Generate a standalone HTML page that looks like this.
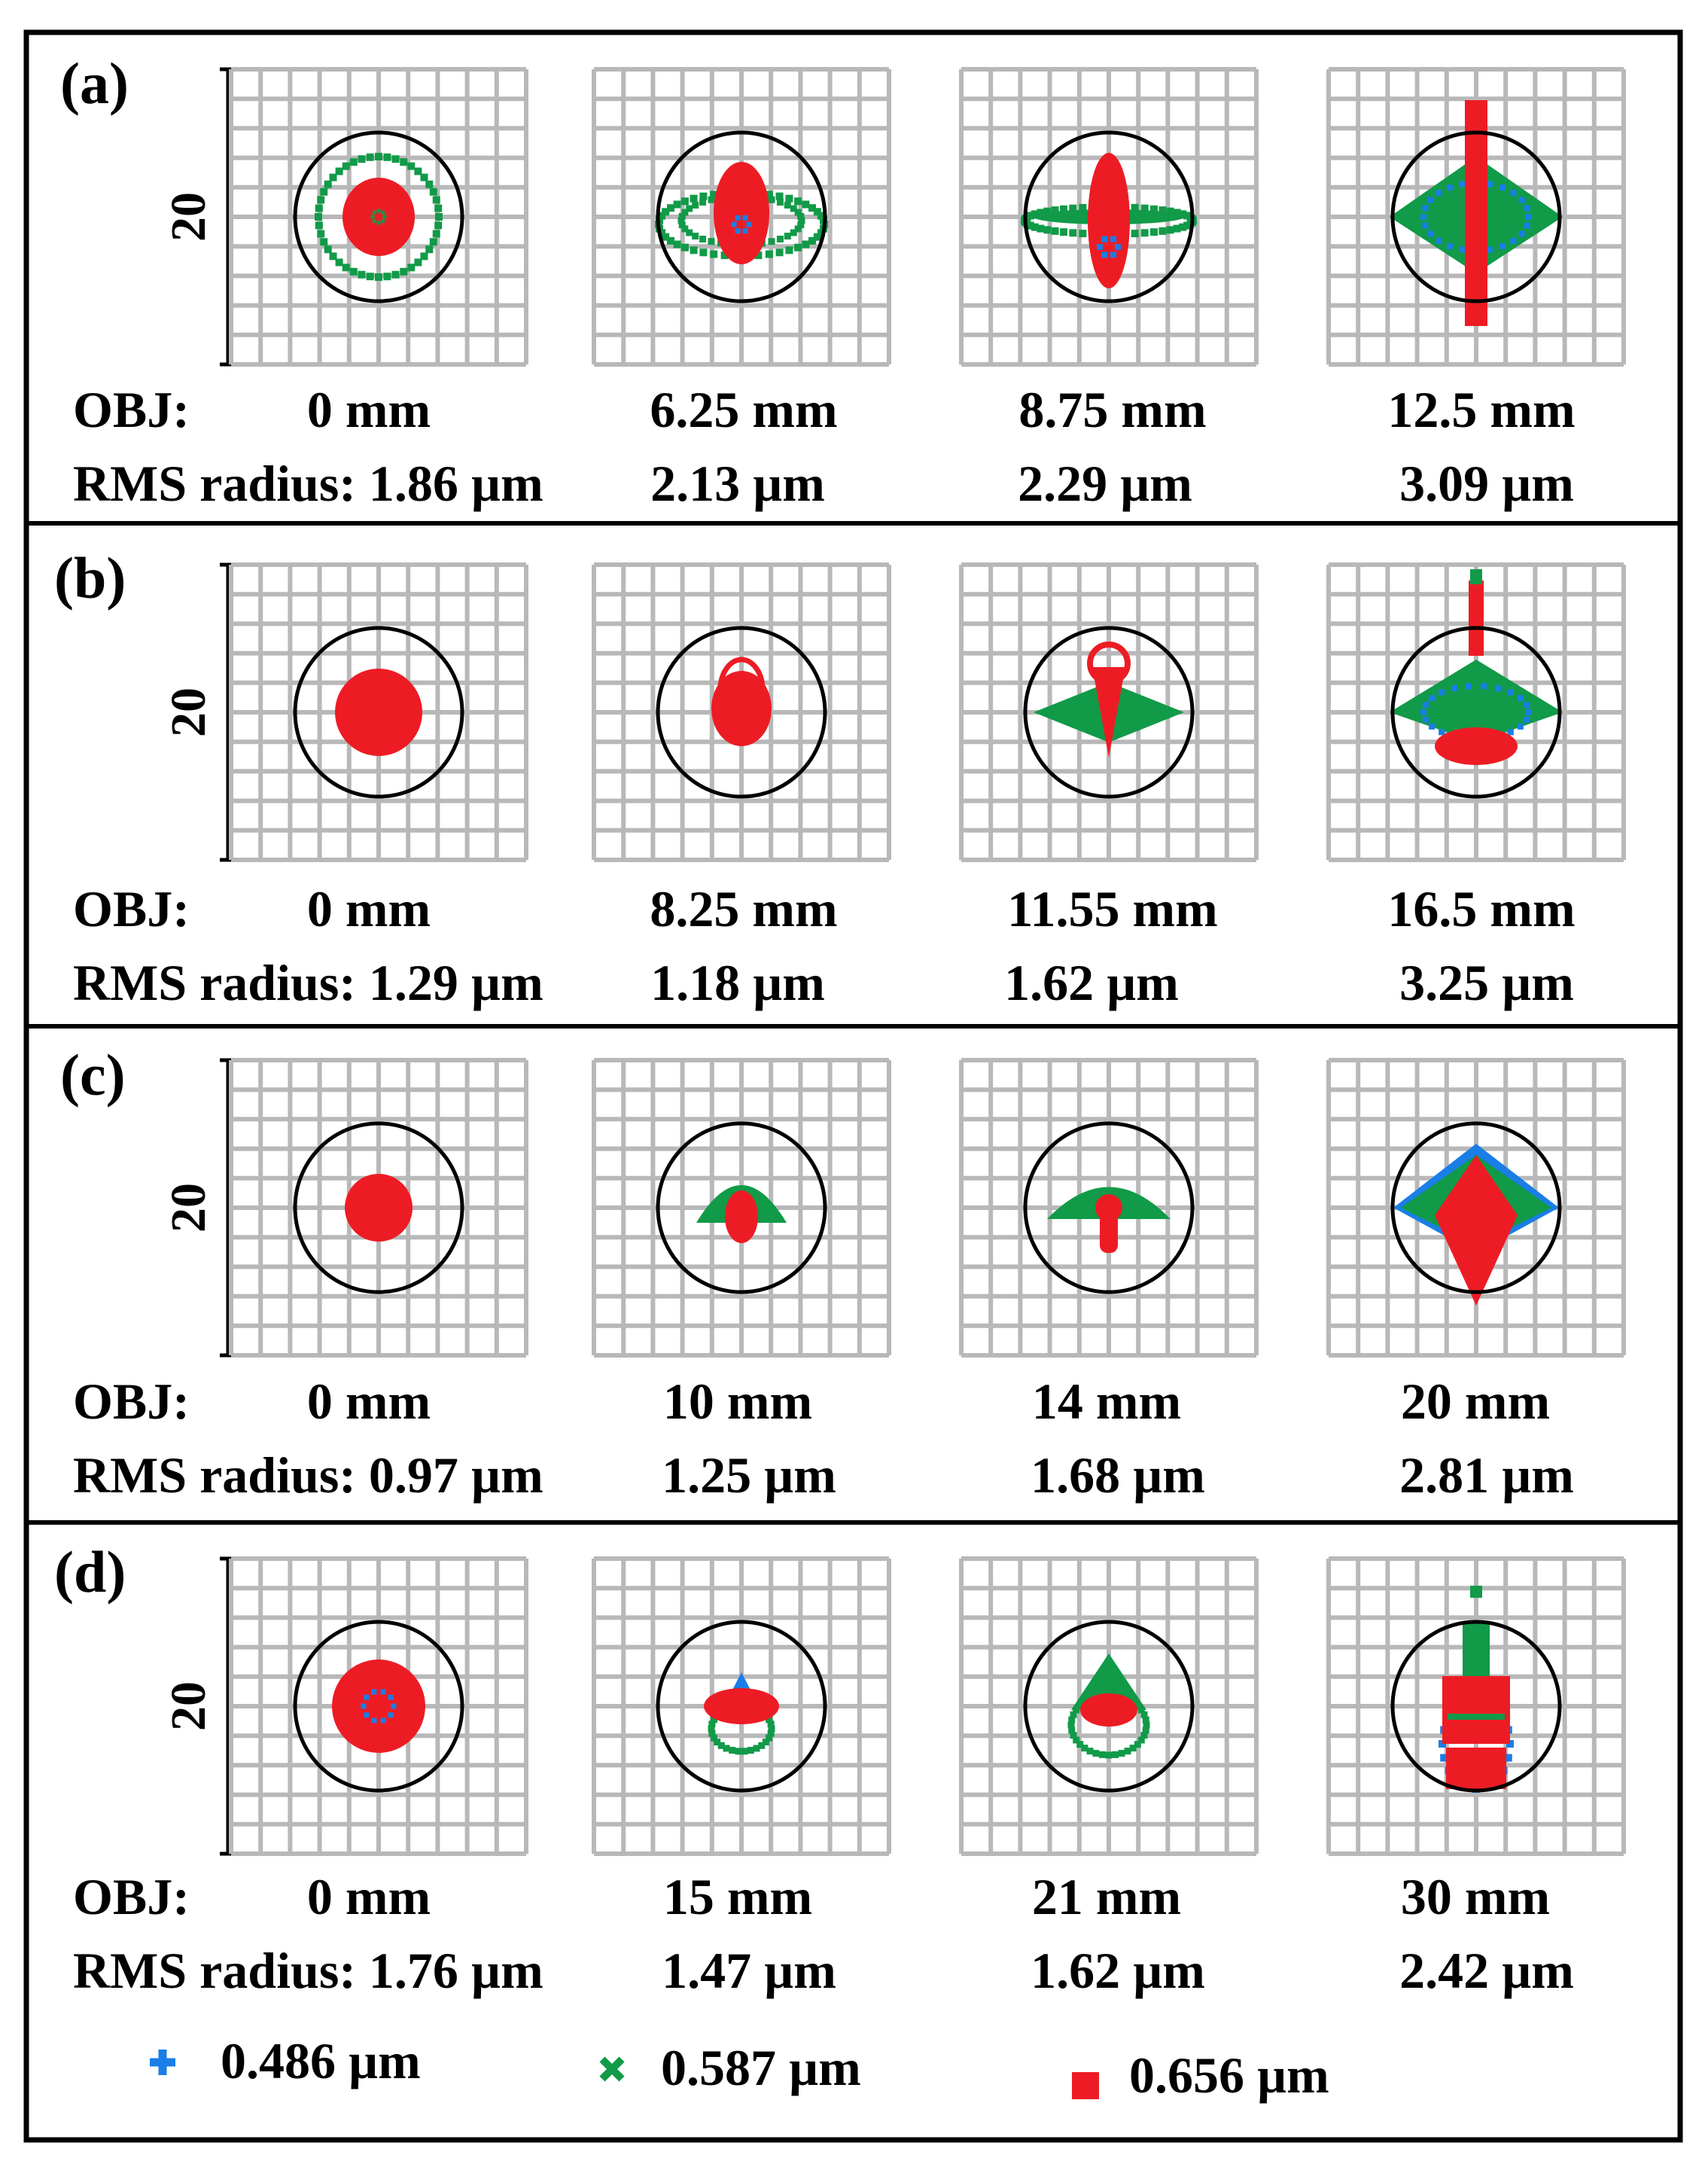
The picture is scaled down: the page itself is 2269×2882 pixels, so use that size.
<!DOCTYPE html>
<html><head><meta charset="utf-8">
<style>
html,body{margin:0;padding:0;background:#fff}
svg{display:block}
text{font-family:"Liberation Serif",serif;font-weight:bold;fill:#000}
</style></head>
<body>
<svg id="s" width="2269" height="2882" viewBox="0 0 2269 2882" xmlns="http://www.w3.org/2000/svg">
<rect x="35" y="43" width="2197" height="2799" fill="none" stroke="#000" stroke-width="7"/>
<line x1="32" y1="695" x2="2235" y2="695" stroke="#000" stroke-width="6"/>
<line x1="32" y1="1363" x2="2235" y2="1363" stroke="#000" stroke-width="6"/>
<line x1="32" y1="2022" x2="2235" y2="2022" stroke="#000" stroke-width="6"/>
<g id="plots"></g>
<g font-size="68">
<text x="80" y="137" font-size="78">(a)</text>
<text x="72" y="794" font-size="78">(b)</text>
<text x="80" y="1454" font-size="78">(c)</text>
<text x="72" y="2114" font-size="78">(d)</text>

<text x="97" y="567">OBJ:</text>
<text x="490" y="567" text-anchor="middle">0 mm</text>
<text x="988" y="567" text-anchor="middle">6.25 mm</text>
<text x="1478" y="567" text-anchor="middle">8.75 mm</text>
<text x="1968" y="567" text-anchor="middle">12.5 mm</text>
<text x="97" y="665">RMS radius:  1.86 µm</text>
<text x="980" y="665" text-anchor="middle">2.13 µm</text>
<text x="1468" y="665" text-anchor="middle">2.29 µm</text>
<text x="1975" y="665" text-anchor="middle">3.09 µm</text>

<text x="97" y="1230">OBJ:</text>
<text x="490" y="1230" text-anchor="middle">0 mm</text>
<text x="988" y="1230" text-anchor="middle">8.25 mm</text>
<text x="1478" y="1230" text-anchor="middle">11.55 mm</text>
<text x="1968" y="1230" text-anchor="middle">16.5 mm</text>
<text x="97" y="1328">RMS radius: 1.29 µm</text>
<text x="980" y="1328" text-anchor="middle">1.18 µm</text>
<text x="1450" y="1328" text-anchor="middle">1.62 µm</text>
<text x="1975" y="1328" text-anchor="middle">3.25 µm</text>

<text x="97" y="1884">OBJ:</text>
<text x="490" y="1884" text-anchor="middle">0 mm</text>
<text x="980" y="1884" text-anchor="middle">10 mm</text>
<text x="1470" y="1884" text-anchor="middle">14 mm</text>
<text x="1960" y="1884" text-anchor="middle">20 mm</text>
<text x="97" y="1982">RMS radius: 0.97 µm</text>
<text x="995" y="1982" text-anchor="middle">1.25 µm</text>
<text x="1485" y="1982" text-anchor="middle">1.68 µm</text>
<text x="1975" y="1982" text-anchor="middle">2.81 µm</text>

<text x="97" y="2542">OBJ:</text>
<text x="490" y="2542" text-anchor="middle">0 mm</text>
<text x="980" y="2542" text-anchor="middle">15 mm</text>
<text x="1470" y="2542" text-anchor="middle">21 mm</text>
<text x="1960" y="2542" text-anchor="middle">30 mm</text>
<text x="97" y="2640">RMS radius: 1.76 µm</text>
<text x="995" y="2640" text-anchor="middle">1.47 µm</text>
<text x="1485" y="2640" text-anchor="middle">1.62 µm</text>
<text x="1975" y="2640" text-anchor="middle">2.42 µm</text>

<text x="293" y="2760">0.486 µm</text>
<text x="878" y="2769">0.587 µm</text>
<text x="1500" y="2779">0.656 µm</text>
</g>
<path d="M216 2722V2756M199 2739H233" stroke="#1a7ee6" stroke-width="11"/>
<path d="M800 2735L826 2761M826 2735L800 2761" stroke="#119a48" stroke-width="10"/>
<rect x="1424" y="2752" width="36" height="36" fill="#ed1c24"/>
</svg>
<script>
var NS="http://www.w3.org/2000/svg",P=document.getElementById("plots");
function el(t,a){var e=document.createElementNS(NS,t);for(var k in a)e.setAttribute(k,a[k]);P.appendChild(e);return e;}
var R="#ed1c24",G="#119a48",B="#1a7ee6";
var xs=[307,789,1277,1765],ys=[92,750,1408,2070];
function ell(cx,cy,rx,ry,f){el("ellipse",{cx:cx,cy:cy,rx:rx,ry:ry,fill:f});}
function ring(cx,cy,rx,ry,n,c,s){for(var i=0;i<n;i++){var a=2*Math.PI*i/n;el("rect",{x:cx+rx*Math.cos(a)-s/2,y:cy+ry*Math.sin(a)-s/2,width:s,height:s,fill:c});}}
function poly(pts,f){el("polygon",{points:pts.map(function(p){return p.join(",")}).join(" "),fill:f});}
for(var r=0;r<4;r++){
 var y0=ys[r];
 el("line",{x1:303,y1:y0,x2:303,y2:y0+392,stroke:"#000","stroke-width":5});
 el("line",{x1:292,y1:y0,x2:314,y2:y0,stroke:"#000","stroke-width":5});
 el("line",{x1:292,y1:y0+392,x2:314,y2:y0+392,stroke:"#000","stroke-width":5});
 var t=el("text",{x:0,y:0,"font-size":66,"text-anchor":"middle",transform:"translate(272,"+(y0+196)+") rotate(-90)"});t.textContent="20";
 for(var c=0;c<4;c++){
  var x0=xs[c];
  for(var i=0;i<=10;i++){
   var d=i*39.2;
   el("line",{x1:x0+d,y1:y0,x2:x0+d,y2:y0+392,stroke:"#b8b8b8","stroke-width":6});
   el("line",{x1:x0,y1:y0+d,x2:x0+392,y2:y0+d,stroke:"#b8b8b8","stroke-width":6});
  }
 }
}
function C(r,c){return [xs[c]+196,ys[r]+196];}
var p;
// (a)
p=C(0,0);ring(p[0],p[1],80,80,44,G,10);ell(p[0],p[1],48,52,R);ring(p[0],p[1],8,8,8,G,5);
p=C(0,1);ring(p[0],p[1]+10,110,42,46,G,10);ring(p[0],p[1]+5,80,32,36,G,9);ell(p[0],p[1]-5,37,68,R);ring(p[0],p[1]+10,10,10,6,B,7);
p=C(0,2);ring(p[0],p[1]+5,112,18,50,G,10);ell(p[0],p[1],100,10,G);ell(p[0],p[1]+5,28,90,R);ring(p[0],p[1]+40,12,12,6,B,8);
p=C(0,3);poly([[p[0]-115,p[1]],[p[0],p[1]-80],[p[0]+115,p[1]],[p[0],p[1]+75]],G);ring(p[0],p[1],70,45,24,B,8);el("rect",{x:p[0]-15,y:p[1]-155,width:30,height:300,fill:R});
// (b)
p=C(1,0);ell(p[0],p[1],58,58,R);
p=C(1,1);ell(p[0],p[1]-5,40,50,R);el("ellipse",{cx:p[0],cy:p[1]-30,rx:28,ry:40,fill:"none",stroke:R,"stroke-width":7});
p=C(1,2);poly([[p[0]-100,p[1]],[p[0],p[1]-40],[p[0]+100,p[1]],[p[0],p[1]+40]],G);poly([[p[0]-22,p[1]-60],[p[0]+22,p[1]-60],[p[0],p[1]+60]],R);el("ellipse",{cx:p[0],cy:p[1]-65,rx:25,ry:25,fill:"none",stroke:R,"stroke-width":8});
p=C(1,3);poly([[p[0]-115,p[1]],[p[0],p[1]-70],[p[0]+115,p[1]],[p[0],p[1]+40]],G);ring(p[0],p[1],70,35,22,B,8);ell(p[0],p[1]+45,55,25,R);el("rect",{x:p[0]-10,y:p[1]-175,width:20,height:100,fill:R});el("rect",{x:p[0]-8,y:p[1]-190,width:16,height:20,fill:G});
// (c)
p=C(2,0);ell(p[0],p[1],45,45,R);
p=C(2,1);el("path",{d:"M"+(p[0]-60)+","+(p[1]+20)+" Q"+p[0]+","+(p[1]-80)+" "+(p[0]+60)+","+(p[1]+20)+" Z",fill:G});ell(p[0],p[1]+12,22,35,R);
p=C(2,2);el("path",{d:"M"+(p[0]-82)+","+(p[1]+15)+" Q"+p[0]+","+(p[1]-70)+" "+(p[0]+82)+","+(p[1]+15)+" Z",fill:G});ell(p[0],p[1],18,18,R);el("rect",{x:p[0]-12,y:p[1],width:24,height:60,rx:10,fill:R});
p=C(2,3);poly([[p[0]-110,p[1]],[p[0],p[1]-85],[p[0]+110,p[1]],[p[0],p[1]+60]],B);poly([[p[0]-100,p[1]],[p[0],p[1]-70],[p[0]+100,p[1]],[p[0],p[1]+50]],G);poly([[p[0]-55,p[1]+10],[p[0],p[1]-70],[p[0]+55,p[1]+10],[p[0],p[1]+130]],R);
// (d)
p=C(3,0);ell(p[0],p[1],62,62,R);ring(p[0],p[1],20,20,10,B,7);
p=C(3,1);poly([[p[0]-18,p[1]-10],[p[0],p[1]-45],[p[0]+18,p[1]-10]],B);ring(p[0],p[1]+30,40,30,30,G,9);ell(p[0],p[1],50,24,R);
p=C(3,2);poly([[p[0]-50,p[1]+5],[p[0],p[1]-70],[p[0]+50,p[1]+5]],G);ring(p[0],p[1]+25,50,40,36,G,9);ell(p[0],p[1]+5,38,22,R);
p=C(3,3);ring(p[0],p[1]+50,45,60,20,B,10);el("rect",{x:p[0]-18,y:p[1]-110,width:36,height:80,fill:G});el("rect",{x:p[0]-8,y:p[1]-160,width:16,height:16,fill:G});el("rect",{x:p[0]-45,y:p[1]-40,width:90,height:90,fill:R});el("rect",{x:p[0]-40,y:p[1]+55,width:80,height:55,fill:R});el("rect",{x:p[0]-38,y:p[1]+10,width:76,height:8,fill:G});
// circles
for(var r=0;r<4;r++)for(var c=0;c<4;c++){p=C(r,c);el("ellipse",{cx:p[0],cy:p[1],rx:111,ry:112,fill:"none",stroke:"#000","stroke-width":5});}
</script>
</body></html>
